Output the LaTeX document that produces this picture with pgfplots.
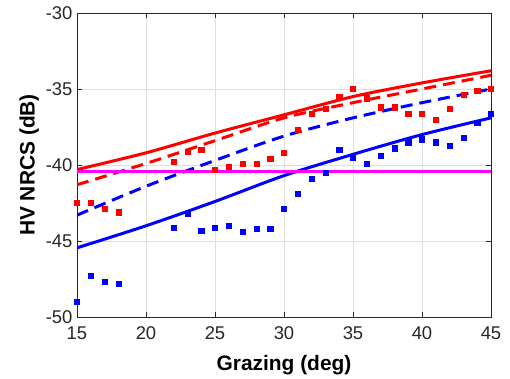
\documentclass[border=0pt]{standalone}
\usepackage{fontspec}
\setmainfont{Liberation Sans}
\usepackage{pgfplots}
\pgfplotsset{compat=1.18}
\definecolor{axgray}{rgb}{0.15,0.15,0.15}
\definecolor{gridgray}{rgb}{0.87,0.87,0.87}
\definecolor{mred}{rgb}{1,0,0}
\definecolor{mblue}{rgb}{0,0,1}
\definecolor{mmag}{rgb}{1,0,1}
\begin{document}
\begin{tikzpicture}
\begin{axis}[
  scale only axis,
  width=414bp, height=304bp,
  xmin=15, xmax=45, ymin=-50, ymax=-30,
  xtick={15,20,...,45}, ytick={-50,-45,...,-30},
  grid=major,
  major grid style={gridgray, line width=0.7bp},
  axis line style={axgray, line width=0.7bp},
  tick style={axgray, line width=0.7bp},
  tick align=inside,
  major tick length=5bp,
  ticklabel style={font=\fontsize{18.5}{20}\selectfont, text=axgray},
  xticklabel style={yshift=-6bp},
  yticklabel style={xshift=-1bp},
  /pgf/number format/assume math mode=true,
  xlabel={\bfseries Grazing (deg)},
  ylabel={\bfseries HV NRCS (dB)},
  label style={font=\fontsize{21}{24}\selectfont},
  xlabel style={yshift=-9bp},
  ylabel style={yshift=0bp},
]
% measured (squares)
\addplot[only marks, mark=square*, mark size=2.6bp, mblue, mark options={fill=mblue, draw=mblue}] coordinates {
(15,-49.0) (16,-47.3) (17,-47.7) (18,-47.8) (22,-44.1) (23,-43.2) (24,-44.3) (25,-44.1) (26,-44.0) (27,-44.4) (28,-44.2) (29,-44.2) (30,-42.9) (31,-41.9) (32,-40.9) (33,-40.5) (34,-39.0) (35,-39.5) (36,-39.9) (37,-39.4) (38,-38.9) (39,-38.5) (40,-38.3) (41,-38.5) (42,-38.75) (43,-38.2) (44,-37.2) (45,-36.6)
};
\addplot[only marks, mark=square*, mark size=2.6bp, mred, mark options={fill=mred, draw=mred}] coordinates {
(15,-42.5) (16,-42.5) (17,-42.9) (18,-43.1) (22,-39.8) (23,-39.1) (24,-39.0) (25,-40.3) (26,-40.1) (27,-39.9) (28,-39.9) (29,-39.6) (30,-39.2) (31,-37.7) (32,-36.6) (33,-36.3) (34,-35.5) (35,-35.0) (36,-35.6) (37,-36.2) (38,-36.2) (39,-36.6) (40,-36.6) (41,-37.0) (42,-36.3) (43,-35.4) (44,-35.1) (45,-35.0)
};
% model lines
\addplot[mred, line width=3bp, smooth, no marks] coordinates {
(15,-40.3) (20,-39.2) (25,-37.9) (30,-36.7) (35,-35.5) (40,-34.6) (45,-33.8)
};
\addplot[mred, line width=3bp, smooth, no marks, dash pattern=on 12bp off 7bp] coordinates {
(15,-41.3) (20,-39.9) (25,-38.4) (30,-36.9) (35,-35.9) (40,-35.0) (45,-34.1)
};
\addplot[mblue, line width=3bp, smooth, no marks, dash pattern=on 12bp off 7bp] coordinates {
(15,-43.3) (20,-41.4) (25,-39.7) (30,-38.1) (35,-36.9) (40,-35.9) (45,-35.0)
};
\addplot[mblue, line width=3bp, smooth, no marks] coordinates {
(15,-45.45) (20,-44.0) (25,-42.4) (30,-40.7) (35,-39.3) (40,-38.0) (45,-36.9)
};
\addplot[mmag, line width=3bp, no marks] coordinates {
(15,-40.45) (45,-40.45)
};
\end{axis}
\useasboundingbox (current axis.south west) ++(-77bp,-62bp) rectangle ([shift={(19bp,13bp)}]current axis.north east);
\end{tikzpicture}
\end{document}
